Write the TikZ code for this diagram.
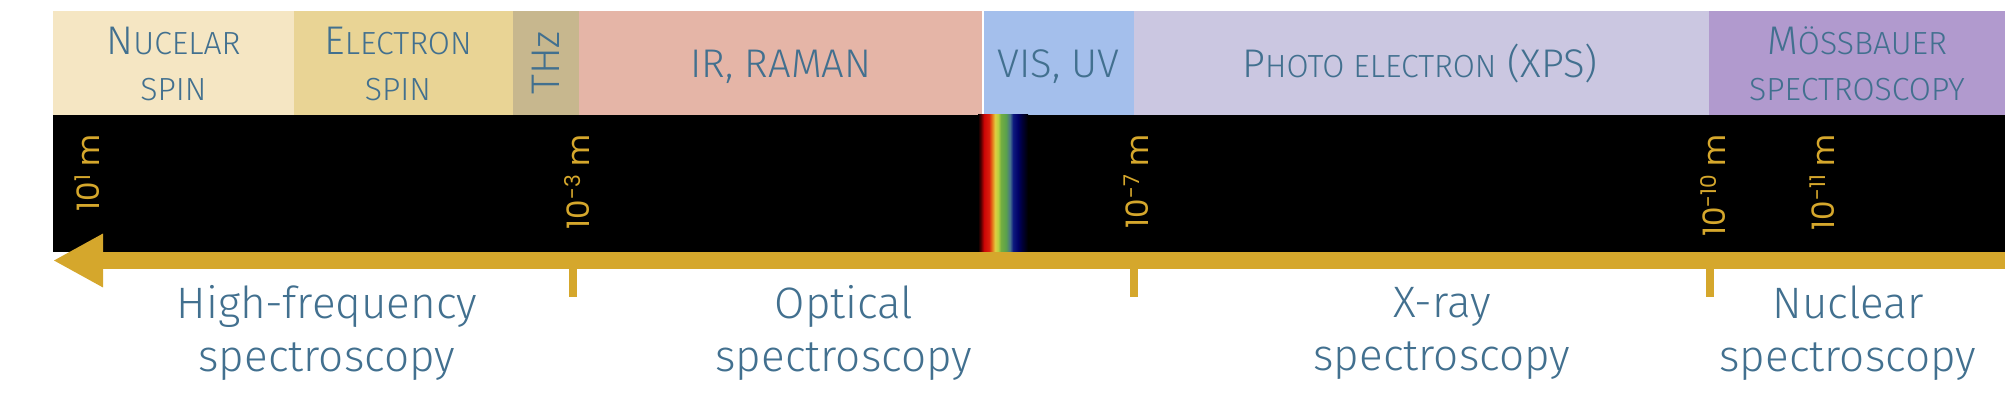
\documentclass[tikz,border=0pt]{standalone}
\usepackage{fontspec}
\IfFontExistsTF{Fira Sans Light}{\setmainfont{Fira Sans Light}}{\setmainfont{Fira Sans}}
\newfontfamily\numfont{Poppins}
\usetikzlibrary{arrows.meta}
\definecolor{nucc}{HTML}{F5E6C3}
\definecolor{elecc}{HTML}{E9D495}
\definecolor{thzc}{HTML}{C7B78E}
\definecolor{irc}{HTML}{E5B5A7}
\definecolor{visc}{HTML}{A4BFEC}
\definecolor{photoc}{HTML}{CBC7E1}
\definecolor{mossc}{HTML}{B19ACE}
\definecolor{txtc}{HTML}{42708F}
\definecolor{goldc}{HTML}{D5A72C}
\definecolor{rbA}{rgb}{0.35,0,0}
\definecolor{rbB}{rgb}{0.80,0.02,0.02}
\definecolor{rbC}{rgb}{0.86,0.12,0.05}
\definecolor{rbD}{rgb}{0.90,0.45,0.10}
\definecolor{rbE}{rgb}{0.88,0.80,0.25}
\definecolor{rbF}{rgb}{0.72,0.82,0.25}
\definecolor{rbG}{rgb}{0.45,0.68,0.25}
\definecolor{rbH}{rgb}{0.35,0.63,0.30}
\definecolor{rbI}{rgb}{0.28,0.45,0.55}
\definecolor{rbJ}{rgb}{0.05,0.10,0.50}
\definecolor{rbK}{rgb}{0.0,0.0,0.40}
\definecolor{rbL}{rgb}{0.0,0.0,0.22}
\pgfdeclarehorizontalshading{rainbow}{100bp}{color(0bp)=(black); color(25bp)=(black); color(28bp)=(rbA); color(31bp)=(rbB); color(36bp)=(rbC); color(39bp)=(rbD); color(42bp)=(rbE); color(45bp)=(rbF); color(48bp)=(rbG); color(53bp)=(rbH); color(57bp)=(rbI); color(60bp)=(rbJ); color(65bp)=(rbK); color(69bp)=(rbL); color(75bp)=(black); color(100bp)=(black)}
\newcommand\mysc[1]{{\fontsize{32}{46}\selectfont #1}}
\begin{document}
\begin{tikzpicture}[x=1pt,y=-1pt,
  topbox/.style={rectangle, inner sep=0pt, outer sep=0pt, minimum height=104pt, text=txtc, align=center, font=\fontsize{40}{46}\selectfont},
  toptext/.style={inner sep=0pt, text=txtc, align=center, font=\fontsize{40}{46}\selectfont},
  wave/.style={inner sep=0pt, rotate=90, anchor=east, text=goldc, font=\numfont\fontsize{31}{36}\selectfont},
  tick/.style={draw=goldc, line width=8pt},
  region/.style={inner sep=0pt, text=txtc, align=center, font=\fontsize{44}{53}\selectfont}]
\useasboundingbox (0,0) rectangle (2008,411);
% top bar
\node[topbox, fill=nucc, minimum width=241pt] (nuc) at (173.5,63) {};
\node[topbox, fill=elecc, minimum width=219pt] (elec) at (403.5,63) {};
\node[topbox, fill=thzc, minimum width=66pt] (thz) at (546,63) {};
\node[topbox, fill=irc, minimum width=404pt] (ir) at (781,63) {};
\node[topbox, fill=visc, minimum width=151pt] (vis) at (1058.5,63) {};
\node[topbox, fill=photoc, minimum width=575pt] (photo) at (1421.5,63) {};
\node[topbox, fill=mossc, minimum width=296pt] (moss) at (1857,63) {};
\draw[white, line width=1.5pt] (vis.north west) -- (vis.south west);
% top labels
\node[toptext] (nuct) at (173.5,64) {N\mysc{UCELAR}\\\mysc{SPIN}};
\node[toptext] (elect) at (398,64) {E\mysc{LECTRON}\\\mysc{SPIN}};
\node[toptext, rotate=90] (thzt) at (thz.center) {THz};
\node[toptext, anchor=base] (irt) at (781,78) {IR, RAMAN};
\node[toptext, anchor=base] (vist) at (1058.5,78) {VIS, UV};
\node[toptext, anchor=base] (photot) at (1420,78) {P\mysc{HOTO ELECTRON} (XPS)};
\node[toptext] (mosst) at (1857,64) {M\mysc{ÖSSBAUER}\\\mysc{SPECTROSCOPY}};
% black band
\node[rectangle, fill=black, inner sep=0pt, outer sep=0pt, minimum width=1952pt, minimum height=137pt] (band) at (1029,183.5) {};
\shade[shading=rainbow] (978,115) rectangle (1028,252);
% wavelength labels
\node[wave] (w1) at (87,134) {10\textsuperscript{1} m};
\node[wave] (w3) at (577,134) {10\textsuperscript{-3} m};
\node[wave] (w7) at (1136,134) {10\textsuperscript{-7} m};
\node[wave] (w10) at (1713,134) {10\textsuperscript{-10} m};
\node[wave] (w11) at (1822,134) {10\textsuperscript{-11} m};
% arrow
\coordinate (arrR) at (2005,260.5);
\coordinate (arrL) at (53,260.5);
\draw[goldc, line width=17pt, -{Triangle[length=50pt, width=50pt]}] (arrR) -- (arrL);
% ticks
\coordinate (t1) at (573,268);
\coordinate (t1e) at (573,297);
\coordinate (t2) at (1134,268);
\coordinate (t2e) at (1134,297);
\coordinate (t3) at (1710,268);
\coordinate (t3e) at (1710,297);
\draw[tick] (t1) -- (t1e);
\draw[tick] (t2) -- (t2e);
\draw[tick] (t3) -- (t3e);
% region labels
\node[region] (hf) at (327,333) {High-frequency\\spectroscopy};
\node[region] (opt) at (844,333) {Optical\\spectroscopy};
\node[region] (xr) at (1442,333) {X-ray\\spectroscopy};
\node[region] (nucl) at (1848,333) {Nuclear\\spectroscopy};
\end{tikzpicture}
\end{document}
